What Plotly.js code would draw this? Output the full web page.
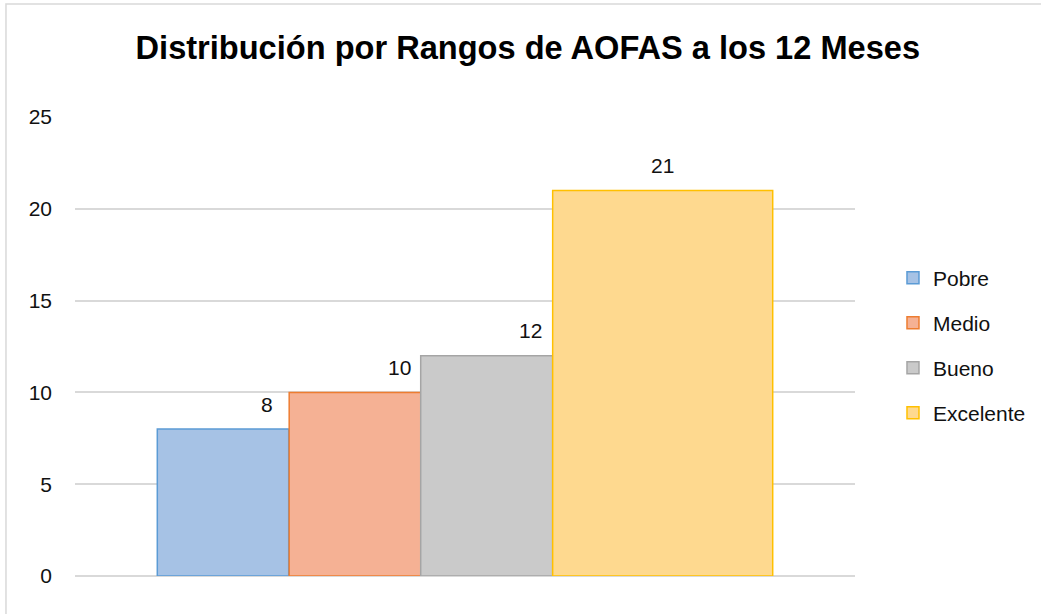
<!DOCTYPE html>
<html>
<head>
<meta charset="utf-8">
<script src="https://cdn.plot.ly/plotly-3.0.1.min.js"></script>
<style>
  html, body { margin: 0; padding: 0; background: #fff; }
  #plot { width: 1041px; height: 614px; }
</style>
</head>
<body>
<div id="plot"></div>
<script>
// data
const series = ['Pobre', 'Medio', 'Bueno', 'Excelente'];
const values = [8, 10, 12, 21];
const category = ['12 Meses'];

// look of each bar
const fills = ['#a6c2e5', '#f5b194', '#cacaca', '#fed98f'];
const edges = ['#5b9bd5', '#ed7d31', '#a5a5a5', '#ffc000'];
// bar placement inside the one category (category units)
const offsets = [-0.3945, -0.2254, -0.0568, 0.1124];
const widths = [0.1685, 0.1692, 0.1692, 0.2821];
const labelWidth = 0.2821;

const font = 'Liberation Sans, Arial, sans-serif';

let traces = series.map(function (name, i) {
    return {
        type: 'bar',
        name: name,
        x: category,
        y: [values[i]],
        offset: offsets[i],
        width: widths[i],
        legendgroup: name,
        marker: { color: fills[i], line: { color: edges[i], width: 1.5 } },
        hoverinfo: 'name+y'
    };
});

let labels = series.map(function (name, i) {
    return {
        xref: 'x', yref: 'y',
        x: offsets[i] + labelWidth / 2,
        y: values[i],
        text: String(values[i]),
        showarrow: false,
        yanchor: 'middle',
        yshift: 25,
        font: { family: font, size: 21, color: '#111' }
    };
});

let layout = {
    width: 1041,
    height: 614,
    margin: { l: 75, r: 186, t: 117, b: 38, autoexpand: false },
    paper_bgcolor: '#fff',
    plot_bgcolor: '#fff',
    font: { family: font, size: 21, color: '#111' },
    title: {
        text: '<b>Distribución por Rangos de AOFAS a los 12 Meses</b>',
        font: { family: font, size: 32.6, color: '#000' },
        xref: 'container', yref: 'container',
        x: 0.507, xanchor: 'center',
        y: 0.922, yanchor: 'middle'
    },
    barmode: 'overlay',
    xaxis: {
        type: 'category',
        range: [-0.5, 0.5],
        showticklabels: false,
        showgrid: false,
        zeroline: false,
        showline: false,
        ticks: ''
    },
    yaxis: {
        range: [0, 25],
        dtick: 5,
        tick0: 0,
        showgrid: true,
        gridcolor: '#d9d9d9',
        gridwidth: 1.5,
        zeroline: true,
        zerolinecolor: '#d9d9d9',
        zerolinewidth: 1.5,
        showline: false,
        ticks: '',
        ticklabelstandoff: 22,
        tickfont: { family: font, size: 21, color: '#111' }
    },
    legend: {
        x: 1.0487, xanchor: 'left',
        y: 0.502, yanchor: 'middle',
        traceorder: 'grouped',
        tracegroupgap: 14.7,
        itemwidth: 30,
        font: { family: font, size: 21, color: '#111' },
        bgcolor: 'rgba(0,0,0,0)'
    },
    annotations: labels,
    shapes: [{
        type: 'path',
        xref: 'paper', yref: 'paper',
        path: 'M -0.0885 -0.2 L -0.0885 1.246 L 1.4 1.246',
        line: { color: '#d9d9d9', width: 1.5 }
    }],
    showlegend: true
};

Plotly.newPlot('plot', traces, layout, { displayModeBar: false, responsive: false });
</script>
</body>
</html>
